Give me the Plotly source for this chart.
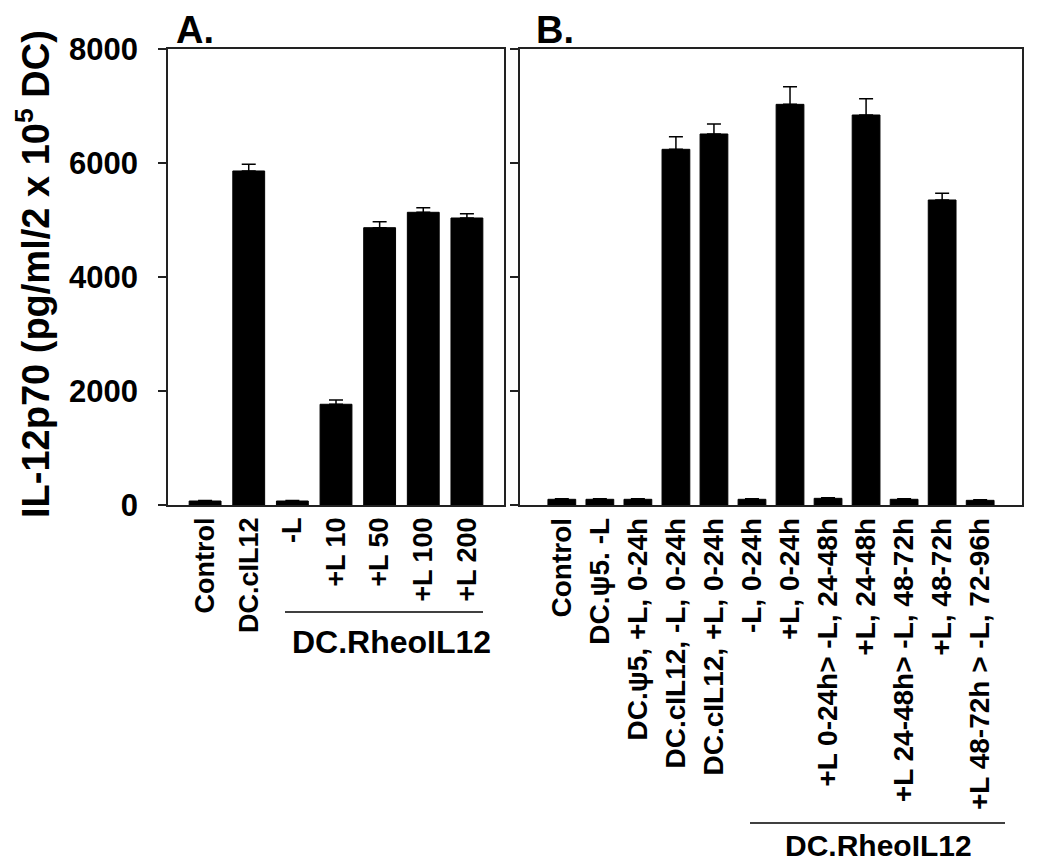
import plotly.graph_objects as go

# Panel A data
cats_a = ["Control", "DC.cIL12", "-L", "+L 10", "+L 50", "+L 100", "+L 200"]
vals_a = [70, 5860, 70, 1767, 4865, 5135, 5035]
err_a = [10, 120, 10, 75, 105, 80, 75]

# Panel B data
cats_b = ["Control", "DC.ψ5. -L", "DC.ψ5, +L, 0-24h", "DC.cIL12, -L, 0-24h",
          "DC.cIL12, +L, 0-24h", "-L, 0-24h", "+L, 0-24h", "+L 0-24h> -L, 24-48h",
          "+L, 24-48h", "+L 24-48h> -L, 48-72h", "+L, 48-72h", "+L 48-72h > -L, 72-96h"]
vals_b = [100, 100, 100, 6240, 6509, 100, 7029, 117, 6842, 100, 5351, 82]
err_b = [10, 10, 10, 220, 175, 10, 310, 12, 285, 10, 120, 8]

y_ticks = [0, 2000, 4000, 6000, 8000]

FONT = "Liberation Sans, Arial, sans-serif"
W, H = 1050, 864
OFF = 8  # page body margin offset


def px(x):
    return (x - OFF) / W


def py(y):
    return 1 - (y - OFF) / H


fig = go.Figure()

fig.add_trace(go.Bar(
    x=list(range(len(cats_a))), y=vals_a,
    marker=dict(color="black", line=dict(color="black", width=1)),
    error_y=dict(type="data", symmetric=False, array=err_a,
                 arrayminus=[0] * len(err_a), color="black", thickness=1.5, width=7),
    xaxis="x", yaxis="y", showlegend=False,
))
fig.add_trace(go.Bar(
    x=list(range(len(cats_b))), y=vals_b,
    marker=dict(color="black", line=dict(color="black", width=1)),
    error_y=dict(type="data", symmetric=False, array=err_b,
                 arrayminus=[0] * len(err_b), color="black", thickness=1.5, width=7),
    xaxis="x2", yaxis="y2", showlegend=False,
))

axis_line = dict(showline=True, linecolor="#222", linewidth=1.5, mirror=True,
                 showgrid=False, zeroline=False, automargin=False)

fig.update_layout(
    width=W, height=H,
    margin=dict(l=0, r=0, t=0, b=0, pad=0, autoexpand=False),
    paper_bgcolor="white", plot_bgcolor="white",
    bargap=0.27,
    font=dict(family=FONT, color="black"),
    xaxis=dict(domain=[px(168), px(504)], range=[-0.85, len(cats_a) - 1 + 0.85],
               tickmode="array", tickvals=list(range(len(cats_a))), ticktext=cats_a,
               tickangle=-90, ticks="",
               tickfont=dict(family=FONT, size=27, weight="bold", color="black"),
               anchor="y", **axis_line),
    yaxis=dict(domain=[py(505), py(49)], range=[0, 8000],
               tickmode="array", tickvals=y_ticks, ticks="outside", ticklen=8,
               tickwidth=1.5, tickcolor="#222", ticklabelstandoff=14,
               tickfont=dict(family=FONT, size=31, weight="bold", color="black"),
               anchor="x", **axis_line),
    xaxis2=dict(domain=[px(520), px(1022)], range=[-1.1, len(cats_b) - 1 + 1.1],
                tickmode="array", tickvals=list(range(len(cats_b))), ticktext=cats_b,
                tickangle=-90, ticks="",
                tickfont=dict(family=FONT, size=28, weight="bold", color="black"),
                anchor="y2", **axis_line),
    yaxis2=dict(domain=[py(505), py(49)], range=[0, 8000],
                tickmode="array", tickvals=y_ticks, ticks="outside", ticklen=8,
                tickwidth=1.5, tickcolor="#222", showticklabels=False,
                anchor="x2", **axis_line),
)

annotations = [
    dict(text="<b>A.</b>", x=px(175), y=1, xref="paper", yref="paper",
         xanchor="left", yanchor="top", showarrow=False, borderpad=0,
         font=dict(family=FONT, size=38, color="black")),
    dict(text="<b>B.</b>", x=px(535), y=1, xref="paper", yref="paper",
         xanchor="left", yanchor="top", showarrow=False, borderpad=0,
         font=dict(family=FONT, size=38, color="black")),
    dict(text="<b>IL-12p70 (pg/ml/2 x 10<sup>5</sup> DC)</b>", x=0,
         y=py(274), xref="paper", yref="paper", xanchor="left", yanchor="middle",
         textangle=-90, showarrow=False, borderpad=0,
         font=dict(family=FONT, size=38, color="black")),
    dict(text="<b>DC.RheoIL12</b>", x=px(391), y=py(642), xref="paper",
         yref="paper", xanchor="center", yanchor="middle", showarrow=False,
         font=dict(family=FONT, size=32, color="black")),
    dict(text="<b>DC.RheoIL12</b>", x=px(878), y=py(845), xref="paper",
         yref="paper", xanchor="center", yanchor="middle", showarrow=False,
         font=dict(family=FONT, size=30, color="black")),
]
fig.update_layout(annotations=annotations)

fig.update_layout(shapes=[
    dict(type="line", xref="paper", yref="paper", x0=px(285), x1=px(483),
         y0=py(612), y1=py(612), line=dict(color="black", width=1.5)),
    dict(type="line", xref="paper", yref="paper", x0=px(750), x1=px(1005),
         y0=py(823), y1=py(823), line=dict(color="black", width=1.5)),
])

fig.write_html("out.html")
